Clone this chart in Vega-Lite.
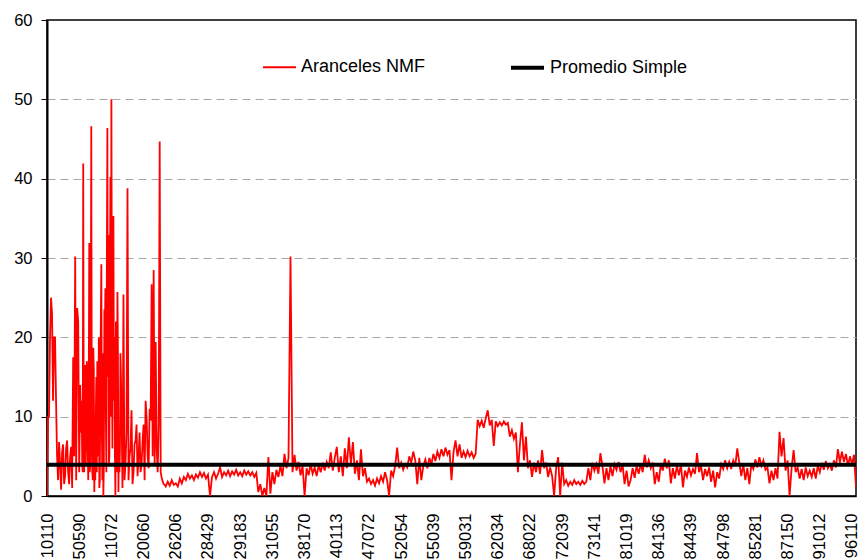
{
  "$schema": "https://vega.github.io/schema/vega-lite/v6.json",
  "width": 809,
  "height": 476,
  "autosize": "none",
  "padding": {"left": 47, "top": 20, "right": 3, "bottom": 64},
  "background": "white",
  "config": {
    "font": "Liberation Sans",
    "view": {"stroke": "#000", "strokeWidth": 1.5},
    "axis": {"labelFont": "Liberation Sans", "labelColor": "#000"}
  },
  "datasets": {
    "nmf": [
{"i":0,"Aranceles NMF":0},{"i":1,"Aranceles NMF":10},{"i":2,"Aranceles NMF":25},{"i":3,"Aranceles NMF":12},{"i":4,"Aranceles NMF":20},{"i":5,"Aranceles NMF":5},{"i":6,"Aranceles NMF":6.8},{"i":7,"Aranceles NMF":0.8},{"i":8,"Aranceles NMF":6.5},{"i":9,"Aranceles NMF":2.5},
{"i":10,"Aranceles NMF":7},{"i":11,"Aranceles NMF":1.5},{"i":12,"Aranceles NMF":6.2},{"i":13,"Aranceles NMF":17.5},{"i":14,"Aranceles NMF":30.2},{"i":15,"Aranceles NMF":23.7},{"i":16,"Aranceles NMF":3},{"i":17,"Aranceles NMF":8},{"i":18,"Aranceles NMF":41.9},{"i":19,"Aranceles NMF":16.5},
{"i":20,"Aranceles NMF":16.3},{"i":21,"Aranceles NMF":31.9},{"i":22,"Aranceles NMF":46.6},{"i":23,"Aranceles NMF":18.7},{"i":24,"Aranceles NMF":2},{"i":25,"Aranceles NMF":17},{"i":26,"Aranceles NMF":1},{"i":27,"Aranceles NMF":29.2},{"i":28,"Aranceles NMF":0},{"i":29,"Aranceles NMF":26.2},
{"i":30,"Aranceles NMF":46.4},{"i":31,"Aranceles NMF":5},{"i":32,"Aranceles NMF":50},{"i":33,"Aranceles NMF":35.3},{"i":34,"Aranceles NMF":0},{"i":35,"Aranceles NMF":25.7},{"i":36,"Aranceles NMF":3},{"i":37,"Aranceles NMF":11.5},{"i":38,"Aranceles NMF":25.4},{"i":39,"Aranceles NMF":4},
{"i":40,"Aranceles NMF":38.8},{"i":41,"Aranceles NMF":5},{"i":42,"Aranceles NMF":10.8},{"i":43,"Aranceles NMF":3},{"i":44,"Aranceles NMF":7},{"i":45,"Aranceles NMF":2.5},{"i":46,"Aranceles NMF":8},{"i":47,"Aranceles NMF":4},{"i":48,"Aranceles NMF":9},{"i":49,"Aranceles NMF":12},
{"i":50,"Aranceles NMF":5},{"i":51,"Aranceles NMF":11},{"i":52,"Aranceles NMF":26.7},{"i":53,"Aranceles NMF":28.5},{"i":54,"Aranceles NMF":19.4},{"i":55,"Aranceles NMF":3},{"i":56,"Aranceles NMF":44.7},{"i":57,"Aranceles NMF":2.3},{"i":58,"Aranceles NMF":1.5},{"i":59,"Aranceles NMF":1.2},
{"i":0.5,"Aranceles NMF":10},{"i":1.5,"Aranceles NMF":20},{"i":2.5,"Aranceles NMF":23},{"i":3.5,"Aranceles NMF":20},{"i":4.5,"Aranceles NMF":12},{"i":5.5,"Aranceles NMF":2},{"i":6.5,"Aranceles NMF":4},{"i":7.5,"Aranceles NMF":5.5},{"i":8.5,"Aranceles NMF":1.5},{"i":9.5,"Aranceles NMF":6},
{"i":10.5,"Aranceles NMF":3},{"i":11.5,"Aranceles NMF":5},{"i":12.5,"Aranceles NMF":1},{"i":13.5,"Aranceles NMF":5},{"i":14.5,"Aranceles NMF":2},{"i":15.5,"Aranceles NMF":22},{"i":16.5,"Aranceles NMF":14},{"i":17.5,"Aranceles NMF":4},{"i":18.5,"Aranceles NMF":3},{"i":19.5,"Aranceles NMF":8},
{"i":20.5,"Aranceles NMF":2},{"i":21.5,"Aranceles NMF":4},{"i":22.5,"Aranceles NMF":3},{"i":23.5,"Aranceles NMF":0.5},{"i":24.5,"Aranceles NMF":15},{"i":25.5,"Aranceles NMF":5},{"i":26.5,"Aranceles NMF":14},{"i":27.5,"Aranceles NMF":2},{"i":28.5,"Aranceles NMF":23.5},{"i":29.5,"Aranceles NMF":3},
{"i":30.5,"Aranceles NMF":32.9},{"i":31.5,"Aranceles NMF":40.2},{"i":32.5,"Aranceles NMF":6},{"i":33.5,"Aranceles NMF":20},{"i":34.5,"Aranceles NMF":15},{"i":35.5,"Aranceles NMF":0.5},{"i":36.5,"Aranceles NMF":18},{"i":37.5,"Aranceles NMF":1},{"i":38.5,"Aranceles NMF":2},{"i":39.5,"Aranceles NMF":8},
{"i":40.5,"Aranceles NMF":2},{"i":41.5,"Aranceles NMF":6},{"i":42.5,"Aranceles NMF":1.5},{"i":43.5,"Aranceles NMF":6.5},{"i":44.5,"Aranceles NMF":9},{"i":45.5,"Aranceles NMF":5},{"i":46.5,"Aranceles NMF":3},{"i":47.5,"Aranceles NMF":7},{"i":48.5,"Aranceles NMF":2},{"i":49.5,"Aranceles NMF":10},
{"i":50.5,"Aranceles NMF":3.5},{"i":51.5,"Aranceles NMF":9.5},{"i":52.5,"Aranceles NMF":5},{"i":53.5,"Aranceles NMF":4},{"i":54.5,"Aranceles NMF":6},{"i":55.5,"Aranceles NMF":9},{"i":56.5,"Aranceles NMF":3},{"i":57.5,"Aranceles NMF":1.8},{"i":58.5,"Aranceles NMF":1.4},
{"i":17.25,"Aranceles NMF":12},{"i":17.75,"Aranceles NMF":3},{"i":18.25,"Aranceles NMF":10},{"i":18.75,"Aranceles NMF":16},{"i":19.25,"Aranceles NMF":4},{"i":19.75,"Aranceles NMF":17},{"i":20.25,"Aranceles NMF":6},{"i":20.75,"Aranceles NMF":14},{"i":21.25,"Aranceles NMF":3},{"i":21.75,"Aranceles NMF":18},
{"i":22.25,"Aranceles NMF":10},{"i":22.75,"Aranceles NMF":2},{"i":23.25,"Aranceles NMF":16},{"i":23.75,"Aranceles NMF":5},{"i":24.25,"Aranceles NMF":10},{"i":24.75,"Aranceles NMF":3},{"i":25.25,"Aranceles NMF":12},{"i":25.75,"Aranceles NMF":20},{"i":26.25,"Aranceles NMF":2},{"i":26.75,"Aranceles NMF":22},
{"i":27.25,"Aranceles NMF":8},{"i":27.75,"Aranceles NMF":18},{"i":28.25,"Aranceles NMF":4},{"i":28.75,"Aranceles NMF":20},{"i":29.25,"Aranceles NMF":10},{"i":29.75,"Aranceles NMF":30},{"i":30.25,"Aranceles NMF":15},{"i":30.75,"Aranceles NMF":4},{"i":31.25,"Aranceles NMF":25},{"i":31.75,"Aranceles NMF":10},
{"i":32.25,"Aranceles NMF":20},{"i":32.75,"Aranceles NMF":28},{"i":33.25,"Aranceles NMF":12},{"i":33.75,"Aranceles NMF":5},{"i":34.25,"Aranceles NMF":22},{"i":34.75,"Aranceles NMF":3},{"i":35.25,"Aranceles NMF":18},{"i":35.75,"Aranceles NMF":8},{"i":36.25,"Aranceles NMF":6},{"i":36.75,"Aranceles NMF":15},
{"i":60,"Aranceles NMF":1.8},{"i":61,"Aranceles NMF":1.3},{"i":62,"Aranceles NMF":2.0},{"i":63,"Aranceles NMF":1.4},{"i":64,"Aranceles NMF":1.6},{"i":65,"Aranceles NMF":1.2},{"i":66,"Aranceles NMF":2.2},{"i":67,"Aranceles NMF":1.6},{"i":68,"Aranceles NMF":2.4},{"i":69,"Aranceles NMF":2.0},
{"i":70,"Aranceles NMF":2.8},{"i":71,"Aranceles NMF":2.2},{"i":72,"Aranceles NMF":2.6},{"i":73,"Aranceles NMF":2.0},{"i":74,"Aranceles NMF":2.7},{"i":75,"Aranceles NMF":2.3},{"i":76,"Aranceles NMF":3.0},{"i":77,"Aranceles NMF":2.4},{"i":78,"Aranceles NMF":2.9},{"i":79,"Aranceles NMF":2.2},
{"i":80,"Aranceles NMF":2.7},{"i":81,"Aranceles NMF":0},{"i":82,"Aranceles NMF":2.4},{"i":83,"Aranceles NMF":3.0},{"i":84,"Aranceles NMF":2.2},{"i":85,"Aranceles NMF":2.8},{"i":86,"Aranceles NMF":3.6},{"i":87,"Aranceles NMF":2.4},{"i":88,"Aranceles NMF":3.0},{"i":89,"Aranceles NMF":2.6},
{"i":90,"Aranceles NMF":3.2},{"i":91,"Aranceles NMF":2.5},{"i":92,"Aranceles NMF":3.1},{"i":93,"Aranceles NMF":2.7},{"i":94,"Aranceles NMF":3.3},{"i":95,"Aranceles NMF":2.6},{"i":96,"Aranceles NMF":3.0},{"i":97,"Aranceles NMF":2.5},{"i":98,"Aranceles NMF":3.2},{"i":99,"Aranceles NMF":2.7},
{"i":100,"Aranceles NMF":3.1},{"i":101,"Aranceles NMF":2.6},{"i":102,"Aranceles NMF":3.0},{"i":103,"Aranceles NMF":2.4},{"i":104,"Aranceles NMF":2.9},{"i":105,"Aranceles NMF":0.5},{"i":106,"Aranceles NMF":1.5},{"i":107,"Aranceles NMF":0},{"i":108,"Aranceles NMF":1.0},{"i":109,"Aranceles NMF":0},
{"i":110,"Aranceles NMF":4.9},{"i":111,"Aranceles NMF":0.3},{"i":112,"Aranceles NMF":3.0},{"i":113,"Aranceles NMF":1.5},{"i":114,"Aranceles NMF":3.3},{"i":115,"Aranceles NMF":2.4},{"i":116,"Aranceles NMF":3.8},{"i":117,"Aranceles NMF":2.5},{"i":118,"Aranceles NMF":5.3},{"i":119,"Aranceles NMF":3.5},
{"i":120,"Aranceles NMF":4.8},{"i":121,"Aranceles NMF":30.2},{"i":122,"Aranceles NMF":3.0},{"i":123,"Aranceles NMF":5.2},{"i":124,"Aranceles NMF":3.2},{"i":125,"Aranceles NMF":4.3},{"i":126,"Aranceles NMF":2.6},{"i":127,"Aranceles NMF":3.8},{"i":128,"Aranceles NMF":0},{"i":129,"Aranceles NMF":3.5},
{"i":130,"Aranceles NMF":2.6},{"i":131,"Aranceles NMF":4.0},{"i":132,"Aranceles NMF":2.8},{"i":133,"Aranceles NMF":3.6},{"i":134,"Aranceles NMF":2.5},{"i":135,"Aranceles NMF":3.9},{"i":136,"Aranceles NMF":3.0},{"i":137,"Aranceles NMF":4.2},{"i":138,"Aranceles NMF":3.2},{"i":139,"Aranceles NMF":4.3},
{"i":140,"Aranceles NMF":3.5},{"i":141,"Aranceles NMF":5.5},{"i":142,"Aranceles NMF":3.2},{"i":143,"Aranceles NMF":4.8},{"i":144,"Aranceles NMF":6.2},{"i":145,"Aranceles NMF":3.0},{"i":146,"Aranceles NMF":5.0},{"i":147,"Aranceles NMF":2.5},{"i":148,"Aranceles NMF":6.0},{"i":149,"Aranceles NMF":3.5},
{"i":150,"Aranceles NMF":7.4},{"i":151,"Aranceles NMF":4.0},{"i":152,"Aranceles NMF":6.8},{"i":153,"Aranceles NMF":2.8},{"i":154,"Aranceles NMF":4.5},{"i":155,"Aranceles NMF":2.0},{"i":156,"Aranceles NMF":5.9},{"i":157,"Aranceles NMF":2.5},{"i":158,"Aranceles NMF":3.5},{"i":159,"Aranceles NMF":1.8},
{"i":160,"Aranceles NMF":2.2},{"i":161,"Aranceles NMF":1.5},{"i":162,"Aranceles NMF":2.0},{"i":163,"Aranceles NMF":1.3},{"i":164,"Aranceles NMF":2.2},{"i":165,"Aranceles NMF":1.6},{"i":166,"Aranceles NMF":2.5},{"i":167,"Aranceles NMF":1.8},{"i":168,"Aranceles NMF":3.0},{"i":169,"Aranceles NMF":2.0},
{"i":170,"Aranceles NMF":0},{"i":171,"Aranceles NMF":3.2},{"i":172,"Aranceles NMF":2.5},{"i":173,"Aranceles NMF":3.8},{"i":174,"Aranceles NMF":6.1},{"i":175,"Aranceles NMF":3.5},{"i":176,"Aranceles NMF":4.2},{"i":177,"Aranceles NMF":3.3},{"i":178,"Aranceles NMF":4.0},{"i":179,"Aranceles NMF":3.6},
{"i":180,"Aranceles NMF":5.0},{"i":181,"Aranceles NMF":4.2},{"i":182,"Aranceles NMF":5.6},{"i":183,"Aranceles NMF":4.5},{"i":184,"Aranceles NMF":1.5},{"i":185,"Aranceles NMF":4.8},{"i":186,"Aranceles NMF":2.0},{"i":187,"Aranceles NMF":3.8},{"i":188,"Aranceles NMF":4.6},{"i":189,"Aranceles NMF":3.5},
{"i":190,"Aranceles NMF":4.8},{"i":191,"Aranceles NMF":4.0},{"i":192,"Aranceles NMF":5.3},{"i":193,"Aranceles NMF":4.4},{"i":194,"Aranceles NMF":5.6},{"i":195,"Aranceles NMF":4.8},{"i":196,"Aranceles NMF":5.9},{"i":197,"Aranceles NMF":5.0},{"i":198,"Aranceles NMF":6.1},{"i":199,"Aranceles NMF":5.2},
{"i":200,"Aranceles NMF":5.8},{"i":201,"Aranceles NMF":2.0},{"i":202,"Aranceles NMF":5.5},{"i":203,"Aranceles NMF":7.0},{"i":204,"Aranceles NMF":5.0},{"i":205,"Aranceles NMF":6.5},{"i":206,"Aranceles NMF":4.8},{"i":207,"Aranceles NMF":5.6},{"i":208,"Aranceles NMF":4.9},{"i":209,"Aranceles NMF":5.7},
{"i":210,"Aranceles NMF":5.0},{"i":211,"Aranceles NMF":5.5},{"i":212,"Aranceles NMF":4.8},{"i":213,"Aranceles NMF":5.3},{"i":214,"Aranceles NMF":9.6},{"i":215,"Aranceles NMF":8.8},{"i":216,"Aranceles NMF":9.5},{"i":217,"Aranceles NMF":8.6},{"i":218,"Aranceles NMF":9.8},{"i":219,"Aranceles NMF":10.8},
{"i":220,"Aranceles NMF":8.9},{"i":221,"Aranceles NMF":9.6},{"i":222,"Aranceles NMF":6.3},{"i":223,"Aranceles NMF":9.4},{"i":224,"Aranceles NMF":8.8},{"i":225,"Aranceles NMF":9.3},{"i":226,"Aranceles NMF":8.9},{"i":227,"Aranceles NMF":9.4},{"i":228,"Aranceles NMF":9.0},{"i":229,"Aranceles NMF":9.2},
{"i":230,"Aranceles NMF":7.5},{"i":231,"Aranceles NMF":8.3},{"i":232,"Aranceles NMF":7.2},{"i":233,"Aranceles NMF":8.0},{"i":234,"Aranceles NMF":3.0},{"i":235,"Aranceles NMF":6.5},{"i":236,"Aranceles NMF":9.3},{"i":237,"Aranceles NMF":4.5},{"i":238,"Aranceles NMF":7.5},{"i":239,"Aranceles NMF":3.5},
{"i":240,"Aranceles NMF":4.5},{"i":241,"Aranceles NMF":2.4},{"i":242,"Aranceles NMF":4.2},{"i":243,"Aranceles NMF":3.0},{"i":244,"Aranceles NMF":4.5},{"i":245,"Aranceles NMF":2.8},{"i":246,"Aranceles NMF":5.8},{"i":247,"Aranceles NMF":3.5},{"i":248,"Aranceles NMF":4.2},{"i":249,"Aranceles NMF":2.4},
{"i":250,"Aranceles NMF":3.6},{"i":251,"Aranceles NMF":2.5},{"i":252,"Aranceles NMF":0},{"i":253,"Aranceles NMF":3.5},{"i":254,"Aranceles NMF":4.9},{"i":255,"Aranceles NMF":0},{"i":256,"Aranceles NMF":4.2},{"i":257,"Aranceles NMF":1.5},{"i":258,"Aranceles NMF":2.0},{"i":259,"Aranceles NMF":1.3},
{"i":260,"Aranceles NMF":1.8},{"i":261,"Aranceles NMF":1.4},{"i":262,"Aranceles NMF":2.0},{"i":263,"Aranceles NMF":1.5},{"i":264,"Aranceles NMF":1.8},{"i":265,"Aranceles NMF":1.4},{"i":266,"Aranceles NMF":1.9},{"i":267,"Aranceles NMF":1.5},{"i":268,"Aranceles NMF":1.8},{"i":269,"Aranceles NMF":3.5},
{"i":270,"Aranceles NMF":2.0},{"i":271,"Aranceles NMF":4.2},{"i":272,"Aranceles NMF":3.2},{"i":273,"Aranceles NMF":4.0},{"i":274,"Aranceles NMF":2.8},{"i":275,"Aranceles NMF":5.4},{"i":276,"Aranceles NMF":3.8},{"i":277,"Aranceles NMF":1.6},{"i":278,"Aranceles NMF":3.5},{"i":279,"Aranceles NMF":2.0},
{"i":280,"Aranceles NMF":3.8},{"i":281,"Aranceles NMF":2.5},{"i":282,"Aranceles NMF":4.0},{"i":283,"Aranceles NMF":3.3},{"i":284,"Aranceles NMF":4.3},{"i":285,"Aranceles NMF":3.0},{"i":286,"Aranceles NMF":4.0},{"i":287,"Aranceles NMF":1.5},{"i":288,"Aranceles NMF":3.2},{"i":289,"Aranceles NMF":1.2},
{"i":290,"Aranceles NMF":2.0},{"i":291,"Aranceles NMF":3.5},{"i":292,"Aranceles NMF":2.3},{"i":293,"Aranceles NMF":3.8},{"i":294,"Aranceles NMF":2.8},{"i":295,"Aranceles NMF":4.0},{"i":296,"Aranceles NMF":3.0},{"i":297,"Aranceles NMF":5.2},{"i":298,"Aranceles NMF":3.6},{"i":299,"Aranceles NMF":4.5},
{"i":300,"Aranceles NMF":3.5},{"i":301,"Aranceles NMF":4.2},{"i":302,"Aranceles NMF":1.5},{"i":303,"Aranceles NMF":3.0},{"i":304,"Aranceles NMF":1.8},{"i":305,"Aranceles NMF":4.0},{"i":306,"Aranceles NMF":3.2},{"i":307,"Aranceles NMF":4.7},{"i":308,"Aranceles NMF":3.5},{"i":309,"Aranceles NMF":4.5},
{"i":310,"Aranceles NMF":1.6},{"i":311,"Aranceles NMF":3.5},{"i":312,"Aranceles NMF":2.2},{"i":313,"Aranceles NMF":3.8},{"i":314,"Aranceles NMF":2.6},{"i":315,"Aranceles NMF":4.0},{"i":316,"Aranceles NMF":1.1},{"i":317,"Aranceles NMF":3.2},{"i":318,"Aranceles NMF":2.4},{"i":319,"Aranceles NMF":3.6},
{"i":320,"Aranceles NMF":2.6},{"i":321,"Aranceles NMF":3.4},{"i":322,"Aranceles NMF":2.8},{"i":323,"Aranceles NMF":5.4},{"i":324,"Aranceles NMF":3.0},{"i":325,"Aranceles NMF":3.8},{"i":326,"Aranceles NMF":2.0},{"i":327,"Aranceles NMF":3.4},{"i":328,"Aranceles NMF":2.5},{"i":329,"Aranceles NMF":3.6},
{"i":330,"Aranceles NMF":1.8},{"i":331,"Aranceles NMF":3.2},{"i":332,"Aranceles NMF":1.1},{"i":333,"Aranceles NMF":3.0},{"i":334,"Aranceles NMF":2.2},{"i":335,"Aranceles NMF":4.0},{"i":336,"Aranceles NMF":3.4},{"i":337,"Aranceles NMF":4.5},{"i":338,"Aranceles NMF":3.5},{"i":339,"Aranceles NMF":4.3},
{"i":340,"Aranceles NMF":3.4},{"i":341,"Aranceles NMF":4.5},{"i":342,"Aranceles NMF":3.8},{"i":343,"Aranceles NMF":6.0},{"i":344,"Aranceles NMF":4.2},{"i":345,"Aranceles NMF":2.5},{"i":346,"Aranceles NMF":4.0},{"i":347,"Aranceles NMF":2.0},{"i":348,"Aranceles NMF":3.5},{"i":349,"Aranceles NMF":1.5},
{"i":350,"Aranceles NMF":4.0},{"i":351,"Aranceles NMF":3.4},{"i":352,"Aranceles NMF":4.6},{"i":353,"Aranceles NMF":3.6},{"i":354,"Aranceles NMF":4.9},{"i":355,"Aranceles NMF":3.8},{"i":356,"Aranceles NMF":4.5},{"i":357,"Aranceles NMF":3.3},{"i":358,"Aranceles NMF":3.6},{"i":359,"Aranceles NMF":1.6},
{"i":360,"Aranceles NMF":3.2},{"i":361,"Aranceles NMF":2.0},{"i":362,"Aranceles NMF":3.5},{"i":363,"Aranceles NMF":2.2},{"i":364,"Aranceles NMF":8.1},{"i":365,"Aranceles NMF":5.0},{"i":366,"Aranceles NMF":7.3},{"i":367,"Aranceles NMF":3.2},{"i":368,"Aranceles NMF":4.5},{"i":369,"Aranceles NMF":0},
{"i":370,"Aranceles NMF":3.5},{"i":371,"Aranceles NMF":5.8},{"i":372,"Aranceles NMF":3.0},{"i":373,"Aranceles NMF":3.6},{"i":374,"Aranceles NMF":2.2},{"i":375,"Aranceles NMF":3.4},{"i":376,"Aranceles NMF":2.0},{"i":377,"Aranceles NMF":3.6},{"i":378,"Aranceles NMF":2.5},{"i":379,"Aranceles NMF":3.2},
{"i":380,"Aranceles NMF":2.4},{"i":381,"Aranceles NMF":3.5},{"i":382,"Aranceles NMF":2.2},{"i":383,"Aranceles NMF":3.8},{"i":384,"Aranceles NMF":3.0},{"i":385,"Aranceles NMF":4.2},{"i":386,"Aranceles NMF":3.3},{"i":387,"Aranceles NMF":4.4},{"i":388,"Aranceles NMF":3.5},{"i":389,"Aranceles NMF":4.0},
{"i":390,"Aranceles NMF":3.2},{"i":391,"Aranceles NMF":4.5},{"i":392,"Aranceles NMF":3.6},{"i":393,"Aranceles NMF":5.9},{"i":394,"Aranceles NMF":4.2},{"i":395,"Aranceles NMF":5.6},{"i":396,"Aranceles NMF":4.3},{"i":397,"Aranceles NMF":5.3},{"i":398,"Aranceles NMF":3.8},{"i":399,"Aranceles NMF":5.0},
{"i":400,"Aranceles NMF":4.0},{"i":401,"Aranceles NMF":5.2},{"i":402,"Aranceles NMF":1.1}
    ],
    "mean": [
      {"i": 0, "Promedio Simple": 3.93},
      {"i": 402, "Promedio Simple": 3.93}
    ]
  },
  "encoding": {
    "x": {
      "field": "i", "type": "quantitative",
      "scale": {"domain": [0, 402], "nice": false, "zero": false},
      "axis": {
        "title": null,
        "values": [0,16,32,48,64,80,96,112,128,144,160,176,192,208,224,240,256,272,288,304,320,336,352,368,384,400],
        "labelExpr": "['10110','50590','11072','20060','26206','28429','29183','31055','38170','40113','47072','52054','55039','59031','62034','68022','72039','73141','81019','84136','84439','84798','85281','87150','91012','96110'][round(datum.value/16)]",
        "labelAngle": -90,
        "labelFontSize": 16.5,
        "labelPadding": 17,
        "labelOverlap": false,
        "labelFlush": false,
        "ticks": false,
        "tickSize": 0,
        "grid": false,
        "domainColor": "#000",
        "domainWidth": 1.5
      }
    },
    "y": {
      "field": "v", "type": "quantitative",
      "scale": {"domain": [0, 60], "nice": false},
      "axis": {
        "title": null,
        "values": [0,10,20,30,40,50,60],
        "labelFontSize": 16.5,
        "labelPadding": 9,
        "tickSize": 6,
        "tickColor": "#000",
        "tickWidth": 1,
        "domainColor": "#000",
        "domainWidth": 2,
        "grid": true,
        "gridColor": {"condition": {"test": "datum.value === 0 || datum.value === 60", "value": "transparent"}, "value": "#a6a6a6"},
        "gridDash": [8, 5],
        "gridWidth": 1
      }
    },
    "color": {
      "field": "s", "type": "nominal",
      "scale": {"domain": ["Aranceles NMF", "Promedio Simple"], "range": ["#ff0000", "#000000"]},
      "legend": {
        "orient": "none", "legendX": 215, "legendY": 29, "direction": "horizontal",
        "title": null, "symbolType": "stroke", "symbolSize": 1089,
        "labelFontSize": 18, "labelFont": "Liberation Sans", "labelColor": "#000",
        "labelOffset": 4, "columnPadding": 77, "padding": 0
      }
    },
    "strokeWidth": {
      "field": "s", "type": "nominal",
      "scale": {"domain": ["Aranceles NMF", "Promedio Simple"], "range": [1.8, 4]},
      "legend": {
        "orient": "none", "legendX": 215, "legendY": 29, "direction": "horizontal",
        "title": null, "symbolType": "stroke", "symbolSize": 1089,
        "labelFontSize": 18, "labelFont": "Liberation Sans", "labelColor": "#000",
        "labelOffset": 4, "columnPadding": 77, "padding": 0
      }
    }
  },
  "layer": [
    {
      "data": {"name": "nmf"},
      "transform": [{"fold": ["Aranceles NMF"], "as": ["s", "v"]}],
      "mark": {"type": "line", "interpolate": "linear", "clip": true}
    },
    {
      "data": {"name": "mean"},
      "transform": [{"fold": ["Promedio Simple"], "as": ["s", "v"]}],
      "mark": {"type": "line", "clip": true}
    }
  ]
}
